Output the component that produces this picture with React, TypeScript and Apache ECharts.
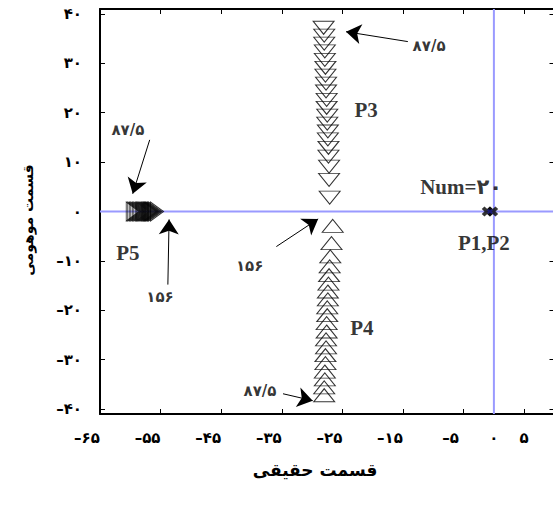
import React, { useEffect, useRef } from "react";
import * as echarts from "echarts";

// ---- data ----
const xTicks = [-65, -55, -45, -35, -25, -15, -5, 5];
const xLabels = [-65, -55, -45, -35, -25, -15, -5, 0, 5];
const yTicks = [-40, -30, -20, -10, 0, 10, 20, 30, 40];

// P3: upper branch (parameter 87.5 at top -> 156 near the axis)
const p3X = [-28.1, -28.0, -28.0, -27.9, -27.9, -27.8, -27.8, -27.7, -27.7, -27.6, -27.6, -27.5, -27.5, -27.4, -27.4, -27.3, -27.3, -27.2, -27.2, -27.1];
const p3Y = [37.2, 35.6, 34.0, 32.4, 30.7, 29.1, 27.5, 25.9, 24.3, 22.6, 21.0, 19.4, 17.8, 16.2, 14.6, 12.9, 11.1, 9.1, 6.4, 2.8];
// P4: lower branch
const p4X = [-28.0, -28.0, -27.9, -27.9, -27.8, -27.8, -27.7, -27.7, -27.6, -27.6, -27.5, -27.5, -27.4, -27.4, -27.3, -27.2, -27.1, -27.0, -26.8, -26.6];
const p4Y = [-37.2, -35.6, -34.0, -32.4, -30.7, -29.1, -27.5, -25.9, -24.3, -22.6, -21.0, -19.4, -17.8, -16.2, -14.6, -12.9, -11.1, -9.1, -6.4, -2.9];
// P5: real pole
const p5X = [-59.6, -59.35, -59.1, -58.85, -58.6, -58.35, -58.1, -57.9, -57.7, -57.5, -57.3, -57.1, -56.9, -56.75, -56.6, -56.45, -56.3, -56.1, -55.9, -55.6];
const p5Y = [0, 0, 0, 0, 0, 0, 0, 0, 0, 0, 0, 0, 0, 0, 0, 0, 0, 0, 0, 0];
// P1,P2 near the origin
const p12X = [-1.1, -0.2];
const p12Y = [0, 0];

// reference crosshair through the origin
const crossH = [[-65, 0], [10, 0]];
const crossV = [[0, -41], [0, 41]];

// text labels (name, x, y)
const labelNames = ["P3", "P4", "P5", "Num=۲۰", "P1,P2"];
const labelX = [-21.1, -21.8, -60.4, -5.4, -1.65];
const labelY = [20.5, -23.6, -8.4, 5.0, -6.4];

// annotation texts (value of the parameter)
const noteNames = ["۸۷/۵", "۱۵۶", "۸۷/۵", "۸۷/۵", "۱۵۶"];
const noteX = [-10.7, -40.3, -38.6, -60.4, -55.1];
const noteY = [33.5, -11.0, -36.3, 16.5, -17.3];
// annotation arrows: from (x1,y1) to (x2,y2)
const arrowFromX = [-14.2, -35.9, -34.8, -56.8, -53.8];
const arrowFromY = [34.4, -7.1, -36.9, 14.5, -14.8];
const arrowToX = [-24.4, -29.0, -29.9, -59.6, -53.6];
const arrowToY = [36.4, -1.5, -38.3, 3.6, -1.6];

const FA = "۰۱۲۳۴۵۶۷۸۹";
const fa = (v: number) => {
  const s = String(Math.abs(v)).replace(/\d/g, (d) => FA[+d]);
  return v < 0 ? "\u2013" + s : s;
};

const FONT = "'Liberation Serif', 'DejaVu Sans', serif";
const FONT_FA = "'DejaVu Sans', 'Liberation Serif', serif";

const X_SHAPE =
  "path://M0,2.5L2.5,0L5,2.5L7.5,0L10,2.5L7.5,5L10,7.5L7.5,10L5,7.5L2.5,10L0,7.5L2.5,5Z";

const zip = (a: number[], b: number[]) => a.map((v, i) => [v, b[i]]);

export default function App() {
  const ref = useRef<HTMLDivElement>(null);
  useEffect(() => {
    if (!ref.current) return;
    const chart = echarts.init(ref.current, null, { renderer: "svg" });
    const axisLine = { show: true, onZero: false, lineStyle: { color: "#000", width: 2 } };
    const tickStyle = { color: "#000", width: 1 };
    const labelStyle = {
      color: "#000",
      fontWeight: "bold" as const,
      fontSize: 15,
      fontFamily: FONT_FA,
    };
    const hollow = { color: "rgba(0,0,0,0)", borderColor: "#000", borderWidth: 1 };
    const blueLine = { color: "#9a9aff", width: 2, type: "solid" as const };
    chart.setOption({
      animation: false,
      backgroundColor: "#fff",
      grid: { left: 100, top: 9, width: 454.5, height: 405, outerBoundsMode: "none" },
      xAxis: [
        {
          type: "value",
          min: -65,
          max: 10,
          position: "bottom",
          axisLine,
          axisTick: { show: true, inside: true, length: 5, customValues: xTicks, lineStyle: tickStyle },
          axisLabel: {
            ...labelStyle,
            margin: 16,
            customValues: xLabels,
            formatter: (v: number) => (v < 0 ? `{neg|${fa(v)}}` : `{pos|${fa(v)}}`),
            rich: {
              neg: { ...labelStyle, padding: [0, 26, 0, 0] },
              pos: { ...labelStyle },
            },
          },
          splitLine: { show: false },
        },
        {
          type: "value",
          min: -65,
          max: 10,
          position: "top",
          axisLine,
          axisTick: { show: true, inside: true, length: 5, customValues: xTicks, lineStyle: tickStyle },
          axisLabel: { show: false },
          splitLine: { show: false },
        },
      ],
      yAxis: [
        {
          type: "value",
          min: -41,
          max: 41,
          position: "left",
          axisLine,
          axisTick: { show: true, inside: true, length: 5, customValues: yTicks, lineStyle: tickStyle },
          axisLabel: { ...labelStyle, margin: 18, customValues: yTicks, formatter: (v: number) => fa(v) },
          splitLine: { show: false },
        },
        {
          type: "value",
          min: -41,
          max: 41,
          position: "right",
          axisLine,
          axisTick: { show: true, inside: true, length: 5, customValues: yTicks, lineStyle: tickStyle },
          axisLabel: { show: false },
          splitLine: { show: false },
        },
      ],
      graphic: [
        {
          type: "text",
          x: 315,
          y: 470,
          style: {
            text: "قسمت حقیقی",
            fill: "#000",
            font: `bold 17px ${FONT_FA}`,
            align: "center",
            verticalAlign: "middle",
          },
        },
        {
          type: "text",
          x: 28,
          y: 220,
          rotation: Math.PI / 2,
          style: {
            text: "قسمت موهومی",
            fill: "#000",
            font: `bold 14px ${FONT_FA}`,
            align: "center",
            verticalAlign: "middle",
          },
        },
      ],
      series: [
        {
          name: "crossH",
          type: "line",
          data: crossH,
          symbol: "none",
          silent: true,
          lineStyle: blueLine,
          z: 1,
        },
        {
          name: "crossV",
          type: "line",
          data: crossV,
          symbol: "none",
          silent: true,
          lineStyle: blueLine,
          z: 1,
        },
        {
          name: "P3",
          type: "scatter",
          data: zip(p3X, p3Y),
          symbol: "path://M0,0L10,0L5,10Z",
          symbolSize: [21, 13],
          itemStyle: hollow,
          z: 3,
        },
        {
          name: "P4",
          type: "scatter",
          data: zip(p4X, p4Y),
          symbol: "path://M5,0L10,10L0,10Z",
          symbolSize: [21, 13],
          itemStyle: hollow,
          z: 3,
        },
        {
          name: "P5",
          type: "scatter",
          data: zip(p5X, p5Y),
          symbol: "path://M0,0L10,5L0,10Z",
          symbolSize: [13, 19],
          itemStyle: hollow,
          z: 3,
        },
        {
          name: "P1P2",
          type: "scatter",
          data: zip(p12X, p12Y),
          symbol: X_SHAPE,
          symbolSize: [11, 10],
          itemStyle: { color: "#000" },
          z: 4,
        },
        {
          name: "P1P2c",
          type: "scatter",
          data: [[-0.65, 0]],
          symbol: X_SHAPE,
          symbolSize: [6, 5],
          itemStyle: { color: "#1a1a8c" },
          z: 5,
        },
        {
          name: "labels",
          type: "scatter",
          data: labelNames.map((n, i) => ({ name: n, value: [labelX[i], labelY[i]] })),
          symbolSize: 1,
          itemStyle: { color: "rgba(0,0,0,0)" },
          label: {
            show: true,
            position: "inside",
            formatter: "{b}",
            color: "#000",
            fontWeight: "bold",
            fontSize: 21,
            fontFamily: FONT,
          },
          z: 6,
        },
        {
          name: "notes",
          type: "scatter",
          data: noteNames.map((n, i) => ({ name: n, value: [noteX[i], noteY[i]] })),
          symbolSize: 1,
          itemStyle: { color: "rgba(0,0,0,0)" },
          label: {
            show: true,
            position: "inside",
            formatter: "{b}",
            color: "#000",
            fontWeight: "bold",
            fontSize: 15,
            fontFamily: FONT_FA,
          },
          z: 6,
        },
        {
          name: "arrows",
          type: "scatter",
          data: [],
          silent: true,
          markLine: {
            silent: true,
            symbol: ["none", "arrow"],
            symbolSize: 15,
            label: { show: false },
            itemStyle: { color: "#000" },
            lineStyle: { color: "#000", width: 1, type: "solid", opacity: 1 },
            data: arrowFromX.map((x, i) => [
              { coord: [x, arrowFromY[i]] },
              { coord: [arrowToX[i], arrowToY[i]] },
            ]),
          },
          z: 6,
        },
      ],
    });
    return () => chart.dispose();
  }, []);
  return (
    <div
      ref={ref}
      style={{ position: "fixed", left: 0, top: 0, width: 553, height: 507, background: "#fff" }}
    />
  );
}
